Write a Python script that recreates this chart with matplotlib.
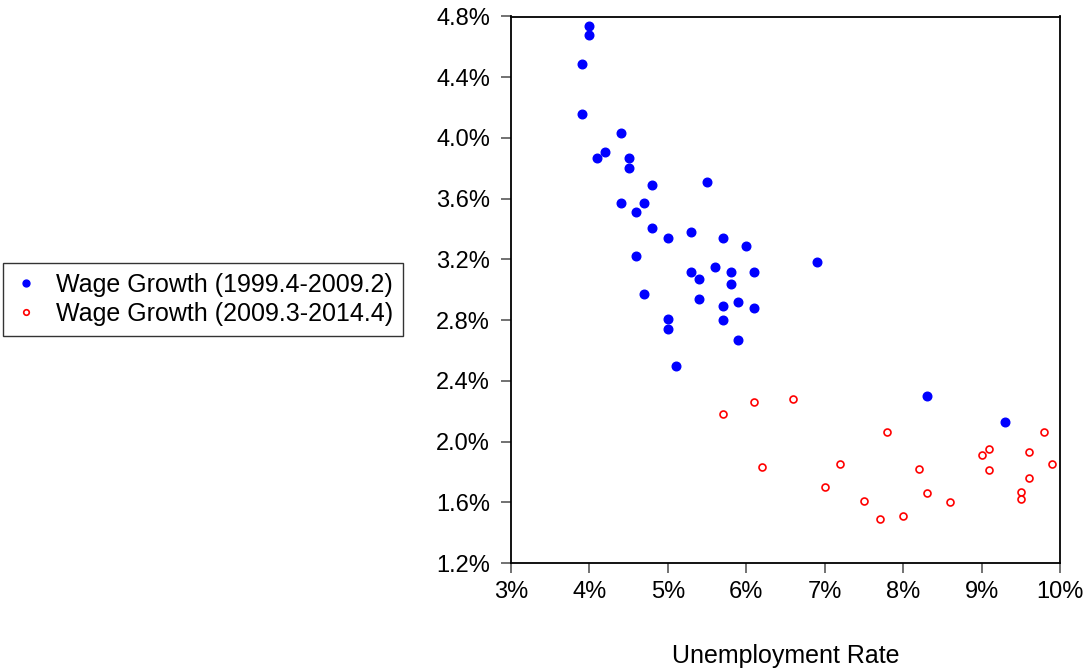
import matplotlib
matplotlib.use("Agg")
import matplotlib.pyplot as plt
from matplotlib.ticker import FuncFormatter, MultipleLocator

plt.rcParams['font.family'] = ['Liberation Sans', 'DejaVu Sans']

# Unemployment rate (%) and wage growth (%), 1999.4-2009.2
u_pre = [4.0, 4.0, 3.9, 3.9, 4.4, 4.2, 4.1, 4.5, 4.5, 4.8, 5.5, 4.4, 4.7, 4.6,
         4.8, 5.3, 5.0, 5.7, 6.0, 6.9, 4.6, 5.3, 5.6, 5.8, 6.1, 5.4, 5.8, 4.7,
         5.4, 5.9, 5.7, 6.1, 5.0, 5.7, 5.0, 5.9, 5.1, 8.3, 9.3]
w_pre = [4.74, 4.68, 4.49, 4.16, 4.03, 3.91, 3.87, 3.87, 3.80, 3.69, 3.71, 3.57,
         3.57, 3.51, 3.41, 3.38, 3.34, 3.34, 3.29, 3.18, 3.22, 3.12, 3.15, 3.12,
         3.12, 3.07, 3.04, 2.97, 2.94, 2.92, 2.89, 2.88, 2.81, 2.80, 2.74, 2.67,
         2.50, 2.30, 2.13]

# 2009.3-2014.4
u_post = [5.7, 6.1, 6.6, 6.2, 7.0, 7.2, 7.5, 7.7, 7.8, 8.0, 8.2, 8.3, 8.6,
          9.0, 9.1, 9.1, 9.5, 9.5, 9.6, 9.6, 9.8, 9.9]
w_post = [2.18, 2.26, 2.28, 1.83, 1.70, 1.85, 1.61, 1.49, 2.06, 1.51, 1.82, 1.66,
          1.60, 1.91, 1.95, 1.81, 1.67, 1.62, 1.93, 1.76, 2.06, 1.85]

label_pre = "Wage Growth (1999.4-2009.2)"
label_post = "Wage Growth (2009.3-2014.4)"
x_title = "Unemployment Rate"

fig = plt.figure(figsize=(10.83, 6.69), dpi=100)
ax = fig.add_axes([511 / 1083, 1 - 563 / 669, (1060 - 511) / 1083, (563 - 16.5) / 669])

ax.plot(u_pre, w_pre, linestyle='none', marker='o', markersize=6.2,
        color='#0000ff', markeredgecolor='#0000ff', label=label_pre)
ax.plot(u_post, w_post, linestyle='none', marker='o', markersize=5,
        markerfacecolor='white', markeredgecolor='#ff0000', markeredgewidth=1.2,
        label=label_post)

ax.set_xlim(3, 10)
ax.set_ylim(1.2, 4.8)
ax.xaxis.set_major_locator(MultipleLocator(1))
ax.yaxis.set_major_locator(MultipleLocator(0.4))
ax.xaxis.set_major_formatter(FuncFormatter(lambda v, p: f"{v:.0f}%"))
ax.yaxis.set_major_formatter(FuncFormatter(lambda v, p: f"{v:.1f}%"))
ax.tick_params(axis='both', direction='out', length=7, width=1.3, color='#666666',
               labelsize=17)
ax.tick_params(axis='y', pad=8)
ax.tick_params(axis='x', pad=6)
for s in ax.spines.values():
    s.set_linewidth(1.3)
    s.set_color('black')

fig.text((511 + 1060) / 2 / 1083, 1 - 663 / 669, x_title, fontsize=18,
         ha='center', va='baseline')

leg = fig.legend(loc='upper left', bbox_to_anchor=(0.003, 1 - 263 / 669), borderaxespad=0,
                 fontsize=18, frameon=True, fancybox=False, handlelength=1.0,
                 handletextpad=0.7, markerscale=0.8, borderpad=0.4, labelspacing=0.2)
leg.get_frame().set_edgecolor('black')
leg.get_frame().set_linewidth(1.0)

fig.savefig("out.png", dpi=100)
